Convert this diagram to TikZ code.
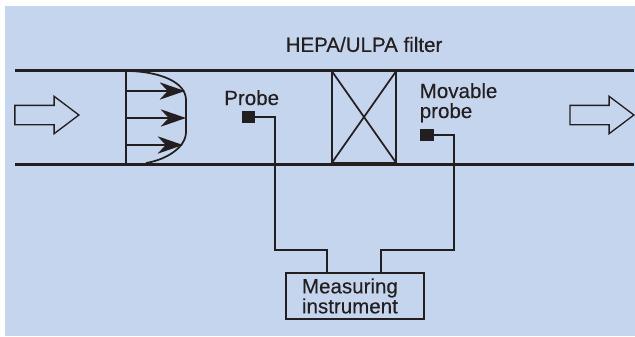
\documentclass[tikz,border=0pt]{standalone}
\usepackage{fontspec}
\setmainfont[FakeBold=0.3]{Liberation Sans}
\usetikzlibrary{positioning, arrows.meta, shapes.arrows}
\definecolor{panel}{HTML}{C6D5EE}
\definecolor{ink}{HTML}{231F20}
\tikzset{duct/.style={draw=ink, line width=2.1pt},
	wire/.style={draw=ink, line width=1.3pt},
	tag/.style={text=ink, inner sep=0pt, align=left, font=\fontsize{15.4}{15}\selectfont}}

\begin{document}
\begin{tikzpicture}[x=0.75pt, y=-0.75pt,
    flow/.style={single arrow, draw=ink, line width=1pt, fill=panel, inner xsep=0pt, inner ysep=6.75pt, minimum height=48pt, minimum width=27pt, single arrow head extend=6.75pt, single arrow tip angle=74},
    sensor/.style={draw=none, fill=ink, inner sep=0pt, minimum width=10pt, minimum height=9pt},
    velocity/.style={draw=ink, line width=1.3pt, -{Stealth[length=19pt, width=13pt, inset=6pt]}}
	]
		\useasboundingbox (0,0) rectangle (635,336);
		\fill[panel] (5,6) rectangle (635,336);

		% duct walls
		\coordinate (TopIn) at (15,70.5);
		\coordinate (TopOut) at (634,70.5);
		\coordinate (BottomIn) at (15,164.5);
		\coordinate (BottomOut) at (634,164.5);
		\draw[duct] (TopIn) -- (TopOut);
		\draw[duct] (BottomIn) -- (BottomOut);

		\node[flow] (Inlet) at (40.5,115) {};
		\node[flow] (Outlet) at (595.5,115) {};

		% velocity profile
		\coordinate (BaseTop) at (126,70);
		\coordinate (BaseBottom) at (126,164);
		\draw[wire] (BaseTop) -- (BaseBottom);
		\draw[wire] (130,71) .. controls (160,72) and (186,82) .. (186,100)
			-- (186,132) .. controls (186,148) and (165,160) .. (146,163);
		\foreach \name/\y/\x in {One/91/185, Two/118/186, Three/145/183} {
			\coordinate (Base\name) at (126,\y);
			\coordinate (Tip\name) at (\x,\y);
			\draw[velocity] (Base\name) -- (Tip\name);
		}

		\node[sensor] (Probe) at (248.5,117) {};
		\node[tag, anchor=base west] (ProbeText) at (224,105) {Probe};

		\node[draw=ink, line width=1.3pt, minimum width=48pt, minimum height=69pt, inner sep=0pt] (Filter) at (364,117) {};
		\draw[wire] (Filter.north west) -- (Filter.south east);
		\draw[wire] (Filter.north east) -- (Filter.south west);
		\node[tag, above=13.7pt of Filter.north, anchor=base] (FilterText) {HEPA/ULPA filter};

		\node[sensor] (Movable) at (427,135) {};
		\node[tag, anchor=base west] (MovableText) at (419.5,98) {Movable};
		\node[tag, anchor=base west] (MovableTextTwo) at (419.5,118) {probe};

		\node[draw=ink, line width=1.5pt, tag, minimum width=103.5pt, minimum height=34.5pt, inner xsep=12pt, text width=79.5pt] (Instrument) at (355,296) {Measuring\\instrument};

		% wires to the instrument
		\coordinate (ProbeBend) at (275,250);
		\coordinate (ProbeIn) at (327,273);
		\coordinate (MovableBend) at (454,250);
		\coordinate (MovableIn) at (381,273);
		\draw[wire] (Probe.east) -| (ProbeBend) -| (ProbeIn);
		\draw[wire] (Movable.east) -| (MovableBend) -| (MovableIn);
	\end{tikzpicture}
\end{document}
